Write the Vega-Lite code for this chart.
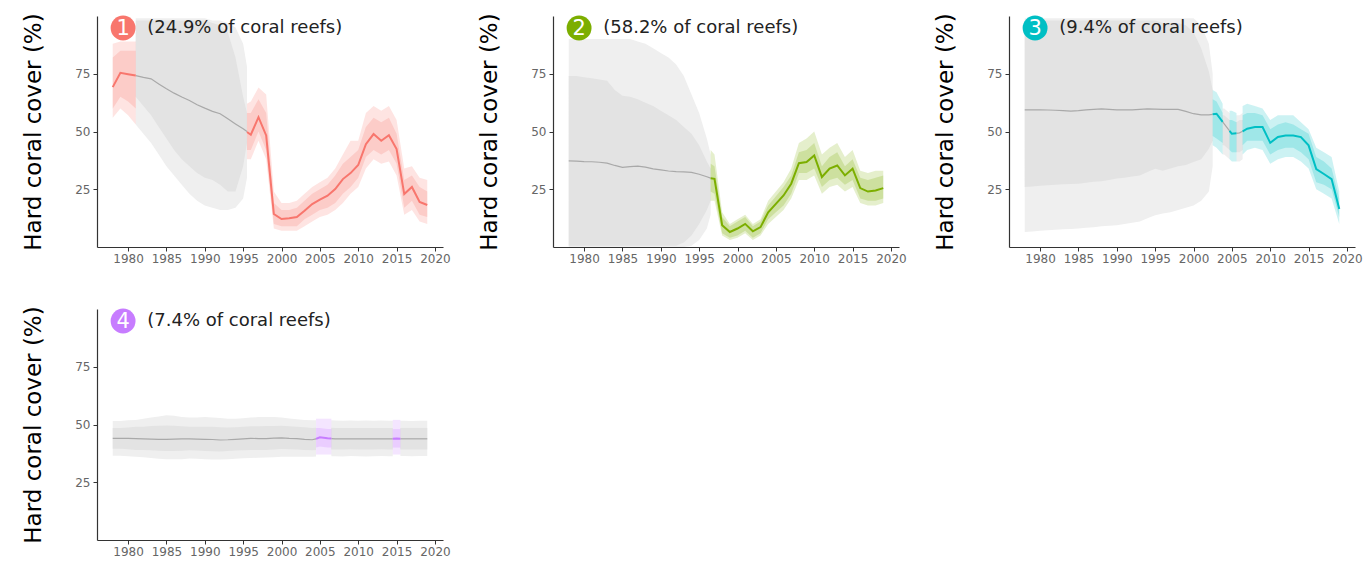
{
  "$schema": "https://vega.github.io/schema/vega-lite/v6.json",
  "padding": {"left": 22, "top": 12, "right": 5, "bottom": 0},
  "datasets": {
    "labels": [
      {"panel": "1", "note": "(24.9% of coral reefs)"},
      {"panel": "2", "note": "(58.2% of coral reefs)"},
      {"panel": "3", "note": "(9.4% of coral reefs)"},
      {"panel": "4", "note": "(7.4% of coral reefs)"}
    ]
  },
  "data": {"values": [
    {"panel":"1","seg":"1a","kind":"obs","year":1978,"mean":69.2,"lo95":56,"hi95":88,"lo80":60,"hi80":82},
    {"panel":"1","seg":"1a","kind":"obs","year":1979,"mean":75.4,"lo95":60,"hi95":89,"lo80":65,"hi80":85},
    {"panel":"1","seg":"1a","kind":"obs","year":1980,"mean":74.8,"lo95":57,"hi95":89,"lo80":63,"hi80":85},
    {"panel":"1","seg":"1a","kind":"obs","year":1981,"mean":74.2,"lo95":53,"hi95":89,"lo80":60,"hi80":85},
    {"panel":"1","seg":"1b","kind":"model","year":1981,"mean":74.2,"lo95":53,"hi95":99,"lo80":65,"hi80":98},
    {"panel":"1","seg":"1b","kind":"model","year":1982,"mean":73.4,"lo95":49,"hi95":99,"lo80":61,"hi80":98},
    {"panel":"1","seg":"1b","kind":"model","year":1983,"mean":72.8,"lo95":45,"hi95":99,"lo80":57,"hi80":98},
    {"panel":"1","seg":"1b","kind":"model","year":1984,"mean":70.6,"lo95":40,"hi95":99,"lo80":52,"hi80":98},
    {"panel":"1","seg":"1b","kind":"model","year":1985,"mean":68.5,"lo95":35,"hi95":99,"lo80":47,"hi80":98},
    {"panel":"1","seg":"1b","kind":"model","year":1986,"mean":66.6,"lo95":31,"hi95":99,"lo80":42,"hi80":98},
    {"panel":"1","seg":"1b","kind":"model","year":1987,"mean":64.9,"lo95":27,"hi95":99,"lo80":38,"hi80":98},
    {"panel":"1","seg":"1b","kind":"model","year":1988,"mean":63.4,"lo95":23,"hi95":99,"lo80":35,"hi80":98},
    {"panel":"1","seg":"1b","kind":"model","year":1989,"mean":61.6,"lo95":20,"hi95":99,"lo80":32,"hi80":98},
    {"panel":"1","seg":"1b","kind":"model","year":1990,"mean":60.1,"lo95":18,"hi95":99,"lo80":30,"hi80":98},
    {"panel":"1","seg":"1b","kind":"model","year":1991,"mean":58.7,"lo95":17,"hi95":98,"lo80":29,"hi80":97},
    {"panel":"1","seg":"1b","kind":"model","year":1992,"mean":57.7,"lo95":16,"hi95":98,"lo80":27,"hi80":96},
    {"panel":"1","seg":"1b","kind":"model","year":1993,"mean":55.5,"lo95":16,"hi95":97,"lo80":24,"hi80":93},
    {"panel":"1","seg":"1b","kind":"model","year":1994,"mean":53.3,"lo95":17,"hi95":95,"lo80":24,"hi80":82},
    {"panel":"1","seg":"1b","kind":"model","year":1995,"mean":51.2,"lo95":21,"hi95":88,"lo80":35,"hi80":65},
    {"panel":"1","seg":"1b","kind":"model","year":1995.5,"mean":50,"lo95":30,"hi95":78,"lo80":45,"hi80":58},
    {"panel":"1","seg":"1c","kind":"obs","year":1995.5,"mean":49.8,"lo95":38,"hi95":62,"lo80":42,"hi80":58},
    {"panel":"1","seg":"1c","kind":"obs","year":1996,"mean":48.6,"lo95":38,"hi95":63,"lo80":42,"hi80":58},
    {"panel":"1","seg":"1c","kind":"obs","year":1997,"mean":56.2,"lo95":46,"hi95":69,"lo80":50,"hi80":64},
    {"panel":"1","seg":"1c","kind":"obs","year":1998,"mean":48.3,"lo95":38,"hi95":66,"lo80":42,"hi80":58},
    {"panel":"1","seg":"1c","kind":"obs","year":1999,"mean":14.3,"lo95":8,"hi95":24,"lo80":10,"hi80":19},
    {"panel":"1","seg":"1c","kind":"obs","year":2000,"mean":12.1,"lo95":7,"hi95":19,"lo80":9,"hi80":16},
    {"panel":"1","seg":"1c","kind":"obs","year":2001,"mean":12.4,"lo95":7,"hi95":19,"lo80":9,"hi80":16},
    {"panel":"1","seg":"1c","kind":"obs","year":2002,"mean":13,"lo95":7,"hi95":20,"lo80":9,"hi80":17},
    {"panel":"1","seg":"1c","kind":"obs","year":2003,"mean":15.7,"lo95":9,"hi95":23,"lo80":12,"hi80":20},
    {"panel":"1","seg":"1c","kind":"obs","year":2004,"mean":18.6,"lo95":11,"hi95":26,"lo80":14,"hi80":23},
    {"panel":"1","seg":"1c","kind":"obs","year":2005,"mean":20.5,"lo95":13,"hi95":28,"lo80":16,"hi80":25},
    {"panel":"1","seg":"1c","kind":"obs","year":2006,"mean":22.2,"lo95":14,"hi95":30,"lo80":17,"hi80":27},
    {"panel":"1","seg":"1c","kind":"obs","year":2007,"mean":25.1,"lo95":16,"hi95":34,"lo80":19,"hi80":31},
    {"panel":"1","seg":"1c","kind":"obs","year":2008,"mean":29.4,"lo95":19,"hi95":40,"lo80":23,"hi80":36},
    {"panel":"1","seg":"1c","kind":"obs","year":2009,"mean":32,"lo95":23,"hi95":46,"lo80":26,"hi80":39},
    {"panel":"1","seg":"1c","kind":"obs","year":2010,"mean":35.5,"lo95":26,"hi95":46,"lo80":30,"hi80":42},
    {"panel":"1","seg":"1c","kind":"obs","year":2011,"mean":44.5,"lo95":34,"hi95":58,"lo80":39,"hi80":52},
    {"panel":"1","seg":"1c","kind":"obs","year":2012,"mean":48.9,"lo95":38,"hi95":61,"lo80":42,"hi80":56},
    {"panel":"1","seg":"1c","kind":"obs","year":2013,"mean":46,"lo95":36,"hi95":59,"lo80":40,"hi80":54},
    {"panel":"1","seg":"1c","kind":"obs","year":2014,"mean":48.4,"lo95":37,"hi95":61,"lo80":42,"hi80":56},
    {"panel":"1","seg":"1c","kind":"obs","year":2015,"mean":42.4,"lo95":31,"hi95":55,"lo80":36,"hi80":49},
    {"panel":"1","seg":"1c","kind":"obs","year":2016,"mean":22.9,"lo95":14,"hi95":34,"lo80":17,"hi80":29},
    {"panel":"1","seg":"1c","kind":"obs","year":2017,"mean":26,"lo95":16,"hi95":35,"lo80":20,"hi80":31},
    {"panel":"1","seg":"1c","kind":"obs","year":2018,"mean":19.5,"lo95":11,"hi95":30,"lo80":14,"hi80":26},
    {"panel":"1","seg":"1c","kind":"obs","year":2019,"mean":18.2,"lo95":10,"hi95":29,"lo80":13,"hi80":24},

    {"panel":"2","seg":"2a","kind":"model","year":1978,"mean":37.3,"lo95":0,"hi95":90,"lo80":0.5,"hi80":74},
    {"panel":"2","seg":"2a","kind":"model","year":1979,"mean":37.2,"lo95":0,"hi95":90,"lo80":0.5,"hi80":74},
    {"panel":"2","seg":"2a","kind":"model","year":1980,"mean":37,"lo95":0,"hi95":90,"lo80":0.5,"hi80":73.5},
    {"panel":"2","seg":"2a","kind":"model","year":1981,"mean":36.9,"lo95":0,"hi95":90,"lo80":0.5,"hi80":73},
    {"panel":"2","seg":"2a","kind":"model","year":1982,"mean":36.7,"lo95":0,"hi95":90,"lo80":0.5,"hi80":72.5},
    {"panel":"2","seg":"2a","kind":"model","year":1983,"mean":36.3,"lo95":0,"hi95":90,"lo80":0.5,"hi80":72},
    {"panel":"2","seg":"2a","kind":"model","year":1984,"mean":35.3,"lo95":0,"hi95":90,"lo80":0.5,"hi80":68},
    {"panel":"2","seg":"2a","kind":"model","year":1985,"mean":34.5,"lo95":0,"hi95":90,"lo80":0.5,"hi80":65.5},
    {"panel":"2","seg":"2a","kind":"model","year":1986,"mean":34.8,"lo95":0,"hi95":90,"lo80":0.5,"hi80":65},
    {"panel":"2","seg":"2a","kind":"model","year":1987,"mean":35,"lo95":0,"hi95":89,"lo80":0.5,"hi80":64},
    {"panel":"2","seg":"2a","kind":"model","year":1988,"mean":34.6,"lo95":0,"hi95":88,"lo80":0.5,"hi80":62.5},
    {"panel":"2","seg":"2a","kind":"model","year":1989,"mean":33.8,"lo95":0,"hi95":86,"lo80":0.5,"hi80":61},
    {"panel":"2","seg":"2a","kind":"model","year":1990,"mean":33.4,"lo95":0,"hi95":84,"lo80":0.5,"hi80":59},
    {"panel":"2","seg":"2a","kind":"model","year":1991,"mean":32.9,"lo95":0,"hi95":82,"lo80":0.5,"hi80":57},
    {"panel":"2","seg":"2a","kind":"model","year":1992,"mean":32.6,"lo95":0,"hi95":79,"lo80":0.5,"hi80":55},
    {"panel":"2","seg":"2a","kind":"model","year":1993,"mean":32.5,"lo95":0,"hi95":74,"lo80":2,"hi80":52},
    {"panel":"2","seg":"2a","kind":"model","year":1994,"mean":32.3,"lo95":0.5,"hi95":66,"lo80":5,"hi80":49},
    {"panel":"2","seg":"2a","kind":"model","year":1995,"mean":31.5,"lo95":3,"hi95":58,"lo80":10,"hi80":44},
    {"panel":"2","seg":"2a","kind":"model","year":1996,"mean":30.4,"lo95":8,"hi95":47,"lo80":16,"hi80":37},
    {"panel":"2","seg":"2a","kind":"model","year":1996.5,"mean":29.8,"lo95":14,"hi95":40,"lo80":20,"hi80":34},
    {"panel":"2","seg":"2b","kind":"obs","year":1996.5,"mean":29.8,"lo95":20,"hi95":42,"lo80":24,"hi80":36},
    {"panel":"2","seg":"2b","kind":"obs","year":1997,"mean":29.5,"lo95":20,"hi95":40,"lo80":23,"hi80":35},
    {"panel":"2","seg":"2b","kind":"obs","year":1998,"mean":9.4,"lo95":5,"hi95":15,"lo80":6,"hi80":13},
    {"panel":"2","seg":"2b","kind":"obs","year":1999,"mean":6.5,"lo95":3,"hi95":10,"lo80":4,"hi80":9},
    {"panel":"2","seg":"2b","kind":"obs","year":2000,"mean":8,"lo95":4,"hi95":12,"lo80":5,"hi80":11},
    {"panel":"2","seg":"2b","kind":"obs","year":2001,"mean":10,"lo95":6,"hi95":14,"lo80":7,"hi80":13},
    {"panel":"2","seg":"2b","kind":"obs","year":2002,"mean":6.8,"lo95":3,"hi95":10,"lo80":4,"hi80":9},
    {"panel":"2","seg":"2b","kind":"obs","year":2003,"mean":8.6,"lo95":5,"hi95":12,"lo80":6,"hi80":11},
    {"panel":"2","seg":"2b","kind":"obs","year":2004,"mean":15,"lo95":10,"hi95":20,"lo80":12,"hi80":18},
    {"panel":"2","seg":"2b","kind":"obs","year":2005,"mean":18.7,"lo95":13,"hi95":24,"lo80":15,"hi80":22},
    {"panel":"2","seg":"2b","kind":"obs","year":2006,"mean":22.3,"lo95":16,"hi95":28,"lo80":18,"hi80":26},
    {"panel":"2","seg":"2b","kind":"obs","year":2007,"mean":27.4,"lo95":21,"hi95":34,"lo80":23,"hi80":31},
    {"panel":"2","seg":"2b","kind":"obs","year":2008,"mean":36.3,"lo95":29,"hi95":45,"lo80":32,"hi80":41},
    {"panel":"2","seg":"2b","kind":"obs","year":2009,"mean":36.8,"lo95":29,"hi95":47,"lo80":32,"hi80":42},
    {"panel":"2","seg":"2b","kind":"obs","year":2010,"mean":39.6,"lo95":31,"hi95":50,"lo80":34,"hi80":45},
    {"panel":"2","seg":"2b","kind":"obs","year":2011,"mean":30.3,"lo95":23,"hi95":40,"lo80":26,"hi80":35},
    {"panel":"2","seg":"2b","kind":"obs","year":2012,"mean":33.9,"lo95":26,"hi95":43,"lo80":29,"hi80":39},
    {"panel":"2","seg":"2b","kind":"obs","year":2013,"mean":35.3,"lo95":27,"hi95":45,"lo80":30,"hi80":41},
    {"panel":"2","seg":"2b","kind":"obs","year":2014,"mean":31,"lo95":24,"hi95":39,"lo80":27,"hi80":35},
    {"panel":"2","seg":"2b","kind":"obs","year":2015,"mean":33.9,"lo95":26,"hi95":42,"lo80":29,"hi80":38},
    {"panel":"2","seg":"2b","kind":"obs","year":2016,"mean":25.5,"lo95":19,"hi95":33,"lo80":21,"hi80":30},
    {"panel":"2","seg":"2b","kind":"obs","year":2017,"mean":24,"lo95":18,"hi95":32,"lo80":20,"hi80":29},
    {"panel":"2","seg":"2b","kind":"obs","year":2018,"mean":24.5,"lo95":18,"hi95":33,"lo80":20,"hi80":30},
    {"panel":"2","seg":"2b","kind":"obs","year":2019,"mean":25.5,"lo95":19,"hi95":33,"lo80":21,"hi80":31},

    {"panel":"3","seg":"3a","kind":"model","year":1978,"mean":59.4,"lo95":6.5,"hi95":99,"lo80":26,"hi80":98},
    {"panel":"3","seg":"3a","kind":"model","year":1979,"mean":59.4,"lo95":6.7,"hi95":99,"lo80":26.2,"hi80":98},
    {"panel":"3","seg":"3a","kind":"model","year":1980,"mean":59.4,"lo95":7,"hi95":99,"lo80":26.5,"hi80":98},
    {"panel":"3","seg":"3a","kind":"model","year":1981,"mean":59.3,"lo95":7.2,"hi95":99,"lo80":26.7,"hi80":98},
    {"panel":"3","seg":"3a","kind":"model","year":1982,"mean":59.2,"lo95":7.5,"hi95":99,"lo80":27,"hi80":98},
    {"panel":"3","seg":"3a","kind":"model","year":1983,"mean":59,"lo95":7.7,"hi95":99,"lo80":27.2,"hi80":98},
    {"panel":"3","seg":"3a","kind":"model","year":1984,"mean":58.8,"lo95":7.8,"hi95":99,"lo80":27.3,"hi80":98},
    {"panel":"3","seg":"3a","kind":"model","year":1985,"mean":59,"lo95":8,"hi95":99,"lo80":27.4,"hi80":98},
    {"panel":"3","seg":"3a","kind":"model","year":1986,"mean":59.4,"lo95":8.3,"hi95":99,"lo80":27.8,"hi80":98},
    {"panel":"3","seg":"3a","kind":"model","year":1987,"mean":59.6,"lo95":8.6,"hi95":99,"lo80":28.2,"hi80":98},
    {"panel":"3","seg":"3a","kind":"model","year":1988,"mean":59.8,"lo95":9,"hi95":99,"lo80":28.5,"hi80":98},
    {"panel":"3","seg":"3a","kind":"model","year":1989,"mean":59.6,"lo95":9.2,"hi95":99,"lo80":29,"hi80":98},
    {"panel":"3","seg":"3a","kind":"model","year":1990,"mean":59.4,"lo95":9.4,"hi95":99,"lo80":29.6,"hi80":98},
    {"panel":"3","seg":"3a","kind":"model","year":1991,"mean":59.4,"lo95":10,"hi95":99,"lo80":30,"hi80":98},
    {"panel":"3","seg":"3a","kind":"model","year":1992,"mean":59.4,"lo95":10.5,"hi95":99,"lo80":30.5,"hi80":98},
    {"panel":"3","seg":"3a","kind":"model","year":1993,"mean":59.6,"lo95":11,"hi95":99,"lo80":31,"hi80":98},
    {"panel":"3","seg":"3a","kind":"model","year":1994,"mean":59.8,"lo95":12.5,"hi95":99,"lo80":32.5,"hi80":98},
    {"panel":"3","seg":"3a","kind":"model","year":1995,"mean":59.7,"lo95":13.7,"hi95":99,"lo80":33.9,"hi80":98},
    {"panel":"3","seg":"3a","kind":"model","year":1996,"mean":59.6,"lo95":14.5,"hi95":99,"lo80":33,"hi80":97},
    {"panel":"3","seg":"3a","kind":"model","year":1997,"mean":59.6,"lo95":15,"hi95":99,"lo80":34,"hi80":97},
    {"panel":"3","seg":"3a","kind":"model","year":1998,"mean":59.6,"lo95":16,"hi95":99,"lo80":35,"hi80":97},
    {"panel":"3","seg":"3a","kind":"model","year":1999,"mean":58.7,"lo95":17,"hi95":99,"lo80":35.5,"hi80":96},
    {"panel":"3","seg":"3a","kind":"model","year":2000,"mean":57.7,"lo95":18,"hi95":99,"lo80":36.8,"hi80":93},
    {"panel":"3","seg":"3a","kind":"model","year":2001,"mean":57.2,"lo95":20,"hi95":96,"lo80":38,"hi80":86},
    {"panel":"3","seg":"3a","kind":"model","year":2002,"mean":57.2,"lo95":24,"hi95":88,"lo80":42.5,"hi80":76},
    {"panel":"3","seg":"3a","kind":"model","year":2002.5,"mean":57.4,"lo95":35,"hi95":75,"lo80":46,"hi80":68},
    {"panel":"3","seg":"3b","kind":"obs","year":2002.5,"mean":57.5,"lo95":44,"hi95":68,"lo80":48,"hi80":64},
    {"panel":"3","seg":"3b","kind":"obs","year":2003,"mean":57.7,"lo95":43,"hi95":67,"lo80":47,"hi80":63},
    {"panel":"3","seg":"3b","kind":"obs","year":2003.8,"mean":54.2,"lo95":40,"hi95":62,"lo80":45,"hi80":58},
    {"panel":"3","seg":"3c","kind":"model","year":2003.8,"mean":54.2,"lo95":40,"hi95":60,"lo80":44,"hi80":57},
    {"panel":"3","seg":"3c","kind":"model","year":2004,"mean":53.3,"lo95":40,"hi95":60,"lo80":44,"hi80":57},
    {"panel":"3","seg":"3c","kind":"model","year":2004.7,"mean":50.3,"lo95":38,"hi95":58,"lo80":42,"hi80":55},
    {"panel":"3","seg":"3d","kind":"obs","year":2004.7,"mean":50.3,"lo95":38,"hi95":59,"lo80":42,"hi80":55},
    {"panel":"3","seg":"3d","kind":"obs","year":2005,"mean":49,"lo95":37,"hi95":59,"lo80":41,"hi80":55},
    {"panel":"3","seg":"3d","kind":"obs","year":2005.6,"mean":49.2,"lo95":37,"hi95":58,"lo80":41,"hi80":54},
    {"panel":"3","seg":"3e","kind":"model","year":2005.6,"mean":49.2,"lo95":37,"hi95":57,"lo80":41,"hi80":54},
    {"panel":"3","seg":"3e","kind":"model","year":2006,"mean":49.4,"lo95":37,"hi95":57,"lo80":41,"hi80":55},
    {"panel":"3","seg":"3e","kind":"model","year":2006.4,"mean":50.1,"lo95":38,"hi95":58,"lo80":42,"hi80":55},
    {"panel":"3","seg":"3f","kind":"obs","year":2006.4,"mean":50.1,"lo95":40,"hi95":61,"lo80":44,"hi80":57},
    {"panel":"3","seg":"3f","kind":"obs","year":2007,"mean":51.2,"lo95":42,"hi95":62,"lo80":46,"hi80":58},
    {"panel":"3","seg":"3f","kind":"obs","year":2008,"mean":51.9,"lo95":43,"hi95":61,"lo80":46,"hi80":58},
    {"panel":"3","seg":"3f","kind":"obs","year":2009,"mean":51.9,"lo95":42,"hi95":60,"lo80":46,"hi80":57},
    {"panel":"3","seg":"3f","kind":"obs","year":2010,"mean":45.1,"lo95":36,"hi95":55,"lo80":40,"hi80":51},
    {"panel":"3","seg":"3f","kind":"obs","year":2011,"mean":47.6,"lo95":38,"hi95":57,"lo80":42,"hi80":53},
    {"panel":"3","seg":"3f","kind":"obs","year":2012,"mean":48.3,"lo95":39,"hi95":57,"lo80":43,"hi80":54},
    {"panel":"3","seg":"3f","kind":"obs","year":2013,"mean":48.3,"lo95":39,"hi95":57,"lo80":43,"hi80":53},
    {"panel":"3","seg":"3f","kind":"obs","year":2014,"mean":47.6,"lo95":37,"hi95":54,"lo80":41,"hi80":51},
    {"panel":"3","seg":"3f","kind":"obs","year":2015,"mean":44,"lo95":34,"hi95":51,"lo80":38,"hi80":49},
    {"panel":"3","seg":"3f","kind":"obs","year":2016,"mean":33.7,"lo95":25,"hi95":43,"lo80":28,"hi80":39},
    {"panel":"3","seg":"3f","kind":"obs","year":2017,"mean":31.6,"lo95":23,"hi95":41,"lo80":27,"hi80":37},
    {"panel":"3","seg":"3f","kind":"obs","year":2018,"mean":29.4,"lo95":21,"hi95":39,"lo80":25,"hi80":34},
    {"panel":"3","seg":"3f","kind":"obs","year":2019,"mean":16.4,"lo95":10,"hi95":24,"lo80":13,"hi80":21},

    {"panel":"4","seg":"4a","kind":"model","year":1978,"mean":44,"lo95":36.5,"hi95":51.5,"lo80":39.5,"hi80":48.5},
    {"panel":"4","seg":"4a","kind":"model","year":1979,"mean":44,"lo95":36.5,"hi95":51.5,"lo80":39.5,"hi80":48.5},
    {"panel":"4","seg":"4a","kind":"model","year":1980,"mean":44,"lo95":36.3,"hi95":51.8,"lo80":39.3,"hi80":48.7},
    {"panel":"4","seg":"4a","kind":"model","year":1981,"mean":43.9,"lo95":36,"hi95":52,"lo80":39,"hi80":49},
    {"panel":"4","seg":"4a","kind":"model","year":1982,"mean":43.8,"lo95":35.8,"hi95":52.5,"lo80":39,"hi80":49},
    {"panel":"4","seg":"4a","kind":"model","year":1983,"mean":43.7,"lo95":35.5,"hi95":53,"lo80":38.8,"hi80":49.3},
    {"panel":"4","seg":"4a","kind":"model","year":1984,"mean":43.6,"lo95":35.2,"hi95":53.5,"lo80":38.6,"hi80":49.5},
    {"panel":"4","seg":"4a","kind":"model","year":1985,"mean":43.6,"lo95":35,"hi95":54,"lo80":38.5,"hi80":49.6},
    {"panel":"4","seg":"4a","kind":"model","year":1986,"mean":43.7,"lo95":35,"hi95":53.8,"lo80":38.5,"hi80":49.5},
    {"panel":"4","seg":"4a","kind":"model","year":1987,"mean":43.8,"lo95":35,"hi95":53.2,"lo80":38.6,"hi80":49.2},
    {"panel":"4","seg":"4a","kind":"model","year":1988,"mean":43.8,"lo95":35.3,"hi95":53,"lo80":38.8,"hi80":49},
    {"panel":"4","seg":"4a","kind":"model","year":1989,"mean":43.7,"lo95":35.2,"hi95":53,"lo80":38.7,"hi80":49},
    {"panel":"4","seg":"4a","kind":"model","year":1990,"mean":43.6,"lo95":35,"hi95":53.2,"lo80":38.5,"hi80":49},
    {"panel":"4","seg":"4a","kind":"model","year":1991,"mean":43.5,"lo95":34.8,"hi95":53,"lo80":38.4,"hi80":49},
    {"panel":"4","seg":"4a","kind":"model","year":1992,"mean":43.3,"lo95":34.8,"hi95":52.8,"lo80":38.3,"hi80":48.8},
    {"panel":"4","seg":"4a","kind":"model","year":1993,"mean":43.4,"lo95":35,"hi95":52.5,"lo80":38.5,"hi80":48.7},
    {"panel":"4","seg":"4a","kind":"model","year":1994,"mean":43.6,"lo95":35.2,"hi95":52.5,"lo80":38.7,"hi80":48.8},
    {"panel":"4","seg":"4a","kind":"model","year":1995,"mean":43.8,"lo95":35.4,"hi95":52.7,"lo80":38.8,"hi80":49},
    {"panel":"4","seg":"4a","kind":"model","year":1996,"mean":44,"lo95":35.5,"hi95":53,"lo80":39,"hi80":49.2},
    {"panel":"4","seg":"4a","kind":"model","year":1997,"mean":43.9,"lo95":35.6,"hi95":53.2,"lo80":39,"hi80":49.2},
    {"panel":"4","seg":"4a","kind":"model","year":1998,"mean":43.9,"lo95":35.7,"hi95":53.3,"lo80":39,"hi80":49.3},
    {"panel":"4","seg":"4a","kind":"model","year":1999,"mean":44.1,"lo95":35.8,"hi95":53.2,"lo80":39.2,"hi80":49.4},
    {"panel":"4","seg":"4a","kind":"model","year":2000,"mean":44.2,"lo95":36,"hi95":53,"lo80":39.4,"hi80":49.5},
    {"panel":"4","seg":"4a","kind":"model","year":2001,"mean":44,"lo95":36,"hi95":52.6,"lo80":39.3,"hi80":49.2},
    {"panel":"4","seg":"4a","kind":"model","year":2002,"mean":43.9,"lo95":36,"hi95":52.3,"lo80":39.2,"hi80":49},
    {"panel":"4","seg":"4a","kind":"model","year":2003,"mean":43.6,"lo95":36,"hi95":52,"lo80":39,"hi80":48.8},
    {"panel":"4","seg":"4a","kind":"model","year":2004,"mean":43.4,"lo95":36,"hi95":51.8,"lo80":38.9,"hi80":48.5},
    {"panel":"4","seg":"4a","kind":"model","year":2004.5,"mean":43.8,"lo95":36.2,"hi95":51.8,"lo80":39,"hi80":48.6},
    {"panel":"4","seg":"4b","kind":"obs","year":2004.5,"mean":43.8,"lo95":37,"hi95":52.5,"lo80":40,"hi80":48.5},
    {"panel":"4","seg":"4b","kind":"obs","year":2005,"mean":44.5,"lo95":37,"hi95":52.5,"lo80":40.5,"hi80":48.5},
    {"panel":"4","seg":"4b","kind":"obs","year":2006,"mean":44,"lo95":37,"hi95":52.5,"lo80":40,"hi80":48},
    {"panel":"4","seg":"4b","kind":"obs","year":2006.5,"mean":43.9,"lo95":37,"hi95":52.5,"lo80":40,"hi80":48},
    {"panel":"4","seg":"4c","kind":"model","year":2006.5,"mean":43.9,"lo95":36.3,"hi95":51.8,"lo80":39.2,"hi80":48.6},
    {"panel":"4","seg":"4c","kind":"model","year":2007,"mean":43.8,"lo95":36.3,"hi95":51.7,"lo80":39.2,"hi80":48.5},
    {"panel":"4","seg":"4c","kind":"model","year":2008,"mean":43.8,"lo95":36.2,"hi95":51.6,"lo80":39.2,"hi80":48.5},
    {"panel":"4","seg":"4c","kind":"model","year":2009,"mean":43.8,"lo95":36.4,"hi95":51.7,"lo80":39.3,"hi80":48.5},
    {"panel":"4","seg":"4c","kind":"model","year":2010,"mean":43.8,"lo95":36.3,"hi95":51.6,"lo80":39.2,"hi80":48.5},
    {"panel":"4","seg":"4c","kind":"model","year":2011,"mean":43.8,"lo95":36.2,"hi95":51.7,"lo80":39.2,"hi80":48.5},
    {"panel":"4","seg":"4c","kind":"model","year":2012,"mean":43.8,"lo95":36.3,"hi95":51.6,"lo80":39.2,"hi80":48.5},
    {"panel":"4","seg":"4c","kind":"model","year":2013,"mean":43.8,"lo95":36.4,"hi95":51.7,"lo80":39.3,"hi80":48.5},
    {"panel":"4","seg":"4c","kind":"model","year":2014,"mean":43.8,"lo95":36.3,"hi95":51.6,"lo80":39.2,"hi80":48.5},
    {"panel":"4","seg":"4c","kind":"model","year":2014.5,"mean":43.8,"lo95":36.3,"hi95":51.6,"lo80":39.2,"hi80":48.5},
    {"panel":"4","seg":"4d","kind":"obs","year":2014.5,"mean":43.8,"lo95":37,"hi95":52,"lo80":40,"hi80":48},
    {"panel":"4","seg":"4d","kind":"obs","year":2015,"mean":43.9,"lo95":37,"hi95":52,"lo80":40,"hi80":48},
    {"panel":"4","seg":"4d","kind":"obs","year":2015.5,"mean":43.8,"lo95":37,"hi95":52,"lo80":40,"hi80":48},
    {"panel":"4","seg":"4e","kind":"model","year":2015.5,"mean":43.8,"lo95":36.4,"hi95":51.6,"lo80":39.2,"hi80":48.5},
    {"panel":"4","seg":"4e","kind":"model","year":2016,"mean":43.8,"lo95":36.4,"hi95":51.6,"lo80":39.2,"hi80":48.5},
    {"panel":"4","seg":"4e","kind":"model","year":2017,"mean":43.8,"lo95":36.3,"hi95":51.5,"lo80":39.2,"hi80":48.5},
    {"panel":"4","seg":"4e","kind":"model","year":2018,"mean":43.8,"lo95":36.4,"hi95":51.6,"lo80":39.2,"hi80":48.5},
    {"panel":"4","seg":"4e","kind":"model","year":2019,"mean":43.8,"lo95":36.4,"hi95":51.6,"lo80":39.2,"hi80":48.5}
  ]},
  "transform": [
    {"lookup": "panel", "from": {"data": {"name": "labels"}, "key": "panel", "fields": ["note"]}}
  ],
  "facet": {"field": "panel", "type": "nominal", "title": null,
            "header": {"labelExpr": "''", "labelFontSize": 0, "labelPadding": 0, "title": null, "titlePadding": 0}},
  "columns": 3,
  "bounds": "flush",
  "spacing": {"row": 62, "column": 110},
  "resolve": {"axis": {"x": "independent", "y": "independent"}},
  "spec": {
    "width": 346,
    "height": 231,
    "encoding": {
      "x": {"field": "year", "type": "quantitative", "scale": {"domain": [1975.95, 2021.05], "nice": false, "zero": false},
            "axis": {"title": null, "values": [1980, 1985, 1990, 1995, 2000, 2005, 2010, 2015, 2020], "format": "d", "labelPadding": 2}}
    },
    "layer": [
      {
        "transform": [{"filter": "datum.kind === 'model'"}],
        "mark": {"type": "area", "color": "#efefef"},
        "encoding": {
          "y": {"field": "lo95", "type": "quantitative", "title": "Hard coral cover (%)", "scale": {"domain": [0, 100], "nice": false, "zero": false},
                "axis": {"values": [25, 50, 75], "labelPadding": 3}},
          "y2": {"field": "hi95"},
          "detail": {"field": "seg", "type": "nominal"}
        }
      },
      {
        "transform": [{"filter": "datum.kind === 'model'"}],
        "mark": {"type": "area", "color": "#e3e3e3"},
        "encoding": {
          "y": {"field": "lo80", "type": "quantitative", "title": "Hard coral cover (%)", "scale": {"domain": [0, 100], "nice": false, "zero": false}},
          "y2": {"field": "hi80"},
          "detail": {"field": "seg", "type": "nominal"}
        }
      },
      {
        "transform": [{"filter": "datum.kind === 'obs'"}],
        "mark": {"type": "area", "opacity": 0.2},
        "encoding": {
          "y": {"field": "lo95", "type": "quantitative", "title": "Hard coral cover (%)", "scale": {"domain": [0, 100], "nice": false, "zero": false}},
          "y2": {"field": "hi95"},
          "detail": {"field": "seg", "type": "nominal"},
          "color": {"field": "panel", "type": "nominal", "scale": {"domain": ["1", "2", "3", "4"], "range": ["#F8766D", "#7CAE00", "#00BFC4", "#C77CFF"]}, "legend": null}
        }
      },
      {
        "transform": [{"filter": "datum.kind === 'obs'"}],
        "mark": {"type": "area", "opacity": 0.22},
        "encoding": {
          "y": {"field": "lo80", "type": "quantitative", "title": "Hard coral cover (%)", "scale": {"domain": [0, 100], "nice": false, "zero": false}},
          "y2": {"field": "hi80"},
          "detail": {"field": "seg", "type": "nominal"},
          "color": {"field": "panel", "type": "nominal", "legend": null}
        }
      },
      {
        "transform": [{"filter": "datum.kind === 'model'"}],
        "mark": {"type": "line", "color": "#a9a9a9", "strokeWidth": 1.2},
        "encoding": {
          "y": {"field": "mean", "type": "quantitative", "title": "Hard coral cover (%)", "scale": {"domain": [0, 100], "nice": false, "zero": false}},
          "detail": {"field": "seg", "type": "nominal"}
        }
      },
      {
        "transform": [{"filter": "datum.kind === 'obs'"}],
        "mark": {"type": "line", "strokeWidth": 2},
        "encoding": {
          "y": {"field": "mean", "type": "quantitative", "title": "Hard coral cover (%)", "scale": {"domain": [0, 100], "nice": false, "zero": false}},
          "detail": {"field": "seg", "type": "nominal"},
          "color": {"field": "panel", "type": "nominal", "legend": null}
        }
      },
      {
        "transform": [{"filter": "datum.year === 1978"}],
        "mark": {"type": "point", "filled": true, "size": 620, "opacity": 1, "shape": "circle"},
        "encoding": {
          "x": {"datum": 1979.35, "type": "quantitative"},
          "y": {"datum": 94.8, "type": "quantitative", "title": "Hard coral cover (%)"},
          "color": {"field": "panel", "type": "nominal", "legend": null}
        }
      },
      {
        "transform": [{"filter": "datum.year === 1978"}],
        "mark": {"type": "text", "color": "white", "fontSize": 21, "font": "DejaVu Sans"},
        "encoding": {
          "x": {"datum": 1979.35, "type": "quantitative"},
          "y": {"datum": 94.5, "type": "quantitative", "title": "Hard coral cover (%)"},
          "text": {"field": "panel", "type": "nominal"}
        }
      },
      {
        "transform": [{"filter": "datum.year === 1978"}],
        "mark": {"type": "text", "align": "left", "color": "#222222", "fontSize": 18, "font": "DejaVu Sans"},
        "encoding": {
          "x": {"datum": 1982.5, "type": "quantitative"},
          "y": {"datum": 94.9, "type": "quantitative", "title": "Hard coral cover (%)"},
          "text": {"field": "note", "type": "nominal"}
        }
      }
    ]
  },
  "config": {
    "view": {"stroke": null},
    "font": "DejaVu Sans",
    "axis": {
      "grid": false,
      "domainColor": "#333333",
      "domainWidth": 1.2,
      "tickColor": "#333333",
      "tickSize": 4,
      "labelColor": "#666666",
      "labelFontSize": 12,
      "labelFont": "DejaVu Sans",
      "titleFont": "DejaVu Sans",
      "titleFontWeight": "normal",
      "titleColor": "#000000"
    },
    "axisY": {"titleFontSize": 23, "titlePadding": 29}
  }
}
